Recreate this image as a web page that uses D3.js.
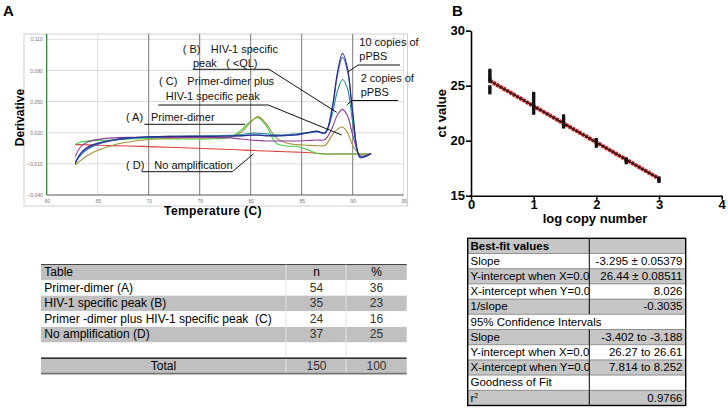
<!DOCTYPE html>
<html><head><meta charset="utf-8">
<script src="https://cdn.jsdelivr.net/npm/d3@7"></script>
<style>
body{margin:0;background:#fff;}
svg{display:block;font-family:"Liberation Sans",Arial,sans-serif;}
text{white-space:pre;}
</style></head>
<body><svg id="c" width="728" height="410"></svg>
<script>
// ---------- Panel A: melt curve data ----------
const meltTemps = [62.8,63.3,64,65,66.5,68,70,72,74,76,78,79,80,80.7,81.5,82.5,83.5,84.5,85.5,86.5,87.3,88,88.5,89,89.5,90,90.7,91.2,91.8];
const navy10   = [-0.010,0.000,0.006,0.010,0.013,0.015,0.016,0.0165,0.0165,0.0165,0.0168,0.017,0.0175,0.0175,0.017,0.017,0.0175,0.018,0.020,0.0215,0.020,0.045,0.078,0.0966,0.082,0.040,-0.003,-0.003,0.000];
const blue10b  = [-0.008,-0.001,0.005,0.009,0.0125,0.0145,0.0158,0.0163,0.0165,0.0165,0.0168,0.0172,0.018,0.018,0.0175,0.017,0.0172,0.0178,0.0195,0.021,0.0195,0.043,0.075,0.093,0.079,0.038,-0.004,-0.003,0.000];
const teal2    = [-0.009,-0.002,0.004,0.009,0.013,0.015,0.016,0.0165,0.0167,0.017,0.0175,0.018,0.0195,0.0195,0.019,0.018,0.018,0.019,0.020,0.021,0.020,0.038,0.060,0.0713,0.062,0.030,-0.003,-0.002,0.000];
const purpleB  = [-0.003,0.006,0.011,0.0135,0.015,0.0155,0.0155,0.0155,0.0155,0.0155,0.015,0.014,0.013,0.0125,0.012,0.012,0.012,0.012,0.0125,0.013,0.0135,0.025,0.037,0.0425,0.036,0.018,-0.002,-0.003,0.000];
const oliveC   = [-0.011,-0.007,-0.002,0.003,0.008,0.011,0.0135,0.0145,0.015,0.015,0.016,0.020,0.030,0.0355,0.029,0.015,0.010,0.0085,0.008,0.0075,0.008,0.018,0.0235,0.0255,0.020,0.008,-0.001,-0.001,0.000];
const greenA   = [0.0085,0.011,0.012,0.0125,0.013,0.014,0.0145,0.014,0.014,0.014,0.016,0.022,0.031,0.0345,0.027,0.010,0.0072,0.0068,0.004,0.000,-0.0005,-0.0005,-0.0005,-0.0005,-0.0005,-0.0005,-0.0005,-0.0005,-0.0005];
const redD     = [0.0085,0.0085,0.0083,0.008,0.0076,0.0072,0.0066,0.006,0.0053,0.0046,0.0038,0.0034,0.003,0.0027,0.0024,0.002,0.0016,0.0013,0.001,0.0002,-0.0005,-0.0005,-0.0005,-0.0005,-0.0005,-0.0005,-0.0005,-0.0005,-0.0005];
const meltSeries = [
  {name:"No amplification", vals:redD,    color:"#d9423c"},
  {name:"Primer-dimer",     vals:greenA,  color:"#3fd23f"},
  {name:"Primer-dimer+HIV", vals:oliveC,  color:"#a8903c"},
  {name:"HIV-1 specific",   vals:purpleB, color:"#8e3c9e"},
  {name:"2 copies",         vals:teal2,   color:"#22908e"},
  {name:"10 copies b",      vals:blue10b, color:"#3a5fd0"},
  {name:"10 copies",        vals:navy10,  color:"#2a2a8a"}
];
const meltYTicks = [0.110,0.080,0.050,0.020,-0.010,-0.040];
const meltXTicks = [60,65,70,75,80,85,90,95];

// ---------- Panel A: table ----------
const tabHeader = ["Table","n","%"];
const tabLabels = ["Primer-dimer (A)","HIV-1 specific peak (B)","Primer -dimer plus HIV-1 specific peak  (C)","No amplification (D)",""];
const tabN      = ["54","35","24","37",""];
const tabPct    = ["36","23","16","25",""];
const tabTotal  = ["Total","150","100"];

// ---------- Panel B: standard curve ----------
const logCopies = [0.301,1,1.477,2,2.477,3];
const ctValues = [
  [26.4,26.2,26.0,25.85,25.7,25.55,25.4,24.9,24.75,24.55,24.35],
  [24.3,24.1,23.9,23.7,23.5,23.3,23.1,22.9,22.7,22.5],
  [22.25,22.05,21.85,21.65,21.45,21.25],
  [20.1,19.9,19.7,19.5],
  [18.35,18.15,18.0],
  [16.6,16.45,16.3]
];
const fitSlope = -3.295, fitIntercept = 26.44;
const bXTicks = [0,1,2,3,4];
const bYTicks = [15,20,25,30];
const fitLabels = ["Best-fit values","Slope","Y-intercept when X=0.0","X-intercept when Y=0.0","1/slope","95% Confidence Intervals","Slope","Y-intercept when X=0.0","X-intercept when Y=0.0","Goodness of Fit","r²"];
const fitValues = ["","-3.295 ± 0.05379","26.44 ± 0.08511","8.026","-0.3035","","-3.402 to -3.188","26.27 to 26.61","7.814 to 8.252","","0.9766"];

// =====================================================
const svg = d3.select("#c");

// panel letters
svg.append("text").attr("x",3).attr("y",16).attr("font-size",15).attr("font-weight","bold").text("A");
svg.append("text").attr("x",452).attr("y",16).attr("font-size",15).attr("font-weight","bold").text("B");

// ---- melt plot ----
const xT = d3.scaleLinear().domain([60,95]).range([46.7,403.7]);
const yD = d3.scaleLinear().domain([-0.040,0.110]).range([195,39.3]);
const gA = svg.append("g");
gA.append("rect").attr("x",24).attr("y",34).attr("width",383.5).attr("height",172)
  .attr("fill","#fff").attr("stroke","#cfcfcf").attr("stroke-width",1);
gA.selectAll(".hg").data(meltYTicks.slice(0,5)).join("line")
  .attr("x1",xT(60)).attr("x2",xT(95)).attr("y1",d=>yD(d)).attr("y2",d=>yD(d))
  .attr("stroke","#d4d4d4").attr("stroke-width",0.8);
gA.selectAll(".vg").data(meltXTicks.slice(1)).join("line")
  .attr("x1",d=>xT(d)).attr("x2",d=>xT(d)).attr("y1",34).attr("y2",yD(-0.040))
  .attr("stroke",d=>(d===65||d===95)?"#d4d4d4":"#7a7a7a").attr("stroke-width",d=>(d===65||d===95)?0.8:1);
const axL = gA.append("g").attr("transform",`translate(${xT(60)},0)`)
  .call(d3.axisLeft(yD).tickValues(meltYTicks).tickFormat(d3.format(".3f")).tickSize(0).tickPadding(4));
axL.select(".domain").remove();
axL.selectAll("text").attr("font-size",5).attr("fill","#777").attr("font-family","Liberation Sans, Arial");
const axB = gA.append("g").attr("transform",`translate(0,${yD(-0.040)})`)
  .call(d3.axisBottom(xT).tickValues(meltXTicks).tickSize(0).tickPadding(4));
axB.select(".domain").remove();
axB.selectAll("text").attr("font-size",5).attr("fill","#777").attr("font-family","Liberation Sans, Arial");
gA.append("line").attr("x1",xT(60)).attr("x2",xT(95)).attr("y1",yD(-0.040)).attr("y2",yD(-0.040)).attr("stroke","#555").attr("stroke-width",1);
gA.append("line").attr("x1",xT(60)).attr("x2",xT(60)).attr("y1",34).attr("y2",yD(-0.040)).attr("stroke","#2e7d32").attr("stroke-width",1.2);

const meltLine = d3.line().x((d,i)=>xT(meltTemps[i])).y(d=>yD(d)).curve(d3.curveCatmullRom.alpha(0.5));
gA.selectAll(".curve").data(meltSeries).join("path")
  .attr("d",d=>meltLine(d.vals)).attr("fill","none").attr("stroke",d=>d.color).attr("stroke-width",1.1);

gA.append("text").attr("x",213).attr("y",215).attr("text-anchor","middle").attr("font-size",12).attr("font-weight","bold").attr("letter-spacing",0.4).text("Temperature (C)");
gA.append("text").attr("transform","translate(24,117.5) rotate(-90)").attr("text-anchor","middle").attr("font-size",12).attr("font-weight","bold").text("Derivative");

const ann = gA.append("g").attr("font-size",11).attr("fill","#111");
const texts = [
  ["( B)",182.7,52.5],["HIV-1 specific",210.7,52.5],["peak",193,67],["( <QL)",226,67],
  ["( C)",159,85],["Primer-dimer plus",187.3,85],["HIV-1 specific peak",165.7,99.5],
  ["( A)",126,120.5],["Primer-dimer",151,120.5],
  ["( D)",126,169],["No amplification",154.3,169],
  ["10 copies of",359.3,46],["pPBS",359.3,60],
  ["2 copies of",360.7,81.5],["pPBS",360.7,95.5]
];
ann.selectAll("text").data(texts).join("text").attr("x",d=>d[1]).attr("y",d=>d[2]).text(d=>d[0]);
const segs = [
  [192.7,69.3,269,69.3],[269,69.3,336.7,112.3],
  [158.3,105,268.3,105],[268.3,105,341.7,135],
  [144.3,124.3,245,124.3],
  [141.7,171.7,232.3,171.7],[232.3,171.7,253.3,154],
  [358,65,400,65],[358,65,348.3,71.7],
  [352,100.5,398,100.5],[352,100.5,346.7,105]
];
gA.selectAll(".seg").data(segs).join("line")
  .attr("x1",d=>d[0]).attr("y1",d=>d[1]).attr("x2",d=>d[2]).attr("y2",d=>d[3])
  .attr("stroke","#111").attr("stroke-width",1);

// ---- Table A ----
const tA = svg.append("g").attr("font-size",12);
const tx0=41, tx1=286, tx2=346, tx3=406.7, ty0=264.5, trh=15.6;
tA.append("rect").attr("x",tx0).attr("y",ty0).attr("width",tx3-tx0).attr("height",trh).attr("fill","#c0c0c0");
tA.append("line").attr("x1",tx0).attr("x2",tx3).attr("y1",ty0).attr("y2",ty0).attr("stroke","#444").attr("stroke-width",1.2);
tA.append("text").attr("x",44.3).attr("y",ty0+11.5).text(tabHeader[0]);
tA.append("text").attr("x",316.5).attr("y",ty0+11.5).attr("text-anchor","middle").text(tabHeader[1]);
tA.append("text").attr("x",376.5).attr("y",ty0+11.5).attr("text-anchor","middle").text(tabHeader[2]);
tabLabels.forEach((lab,i)=>{
  const y = ty0+trh*(i+1);
  tA.append("rect").attr("x",tx0).attr("y",y).attr("width",tx3-tx0).attr("height",trh).attr("fill",i%2===1?"#c0c0c0":"#fff");
  tA.append("text").attr("x",44.3).attr("y",y+11.5).text(lab);
  tA.append("text").attr("x",316.5).attr("y",y+11.5).attr("text-anchor","middle").attr("fill","#333").text(tabN[i]);
  tA.append("text").attr("x",376.5).attr("y",y+11.5).attr("text-anchor","middle").attr("fill","#333").text(tabPct[i]);
});
const tyT = ty0+trh*6;
tA.append("rect").attr("x",tx0).attr("y",tyT).attr("width",tx3-tx0).attr("height",trh).attr("fill","#c0c0c0");
[tx1,tx2].forEach(x=>tA.append("line").attr("x1",x).attr("x2",x).attr("y1",ty0).attr("y2",tyT+trh).attr("stroke","#e2e2e2").attr("stroke-width",1));
tA.append("line").attr("x1",tx0).attr("x2",tx3).attr("y1",tyT).attr("y2",tyT).attr("stroke","#000").attr("stroke-width",1.3);
tA.append("line").attr("x1",tx0).attr("x2",tx3).attr("y1",tyT+trh).attr("y2",tyT+trh).attr("stroke","#777").attr("stroke-width",1.8);
tA.append("text").attr("x",(tx0+tx1)/2).attr("y",tyT+11.5).attr("text-anchor","middle").text(tabTotal[0]);
tA.append("text").attr("x",316.5).attr("y",tyT+11.5).attr("text-anchor","middle").attr("fill","#333").text(tabTotal[1]);
tA.append("text").attr("x",376.5).attr("y",tyT+11.5).attr("text-anchor","middle").attr("fill","#333").text(tabTotal[2]);

// ---- Panel B scatter ----
const xB = d3.scaleLinear().domain([0,4]).range([471,721.7]);
const yB = d3.scaleLinear().domain([15,30]).range([195.7,30.7]);
const gB = svg.append("g");
const bx = gB.append("g").attr("transform",`translate(0,${yB(15)})`)
  .call(d3.axisBottom(xB).tickValues(bXTicks).tickFormat(d3.format("d")).tickSize(4).tickSizeOuter(0).tickPadding(0));
const by = gB.append("g").attr("transform",`translate(${xB(0)},0)`)
  .call(d3.axisLeft(yB).tickValues(bYTicks).tickFormat(d3.format("d")).tickSize(5).tickSizeOuter(0).tickPadding(1));
[bx,by].forEach(a=>{
  a.selectAll("path,line").attr("stroke","#000").attr("stroke-width",1.6);
  a.selectAll("text").attr("font-size",13).attr("font-weight","bold").attr("fill","#000").attr("font-family","Liberation Sans, Arial");
});
gB.append("text").attr("x",595).attr("y",223).attr("text-anchor","middle").attr("font-size",13).attr("font-weight","bold").text("log copy number");
gB.append("text").attr("transform",`translate(446,${(yB(15)+yB(30))/2}) rotate(-90)`).attr("text-anchor","middle").attr("font-size",13).attr("font-weight","bold").text("ct value");

const xs0 = logCopies[0], xs1 = logCopies[logCopies.length-1];
const fitPts = [[xs0, fitIntercept+fitSlope*xs0],[xs1, fitIntercept+fitSlope*xs1]];
const fl = d3.line().x(d=>xB(d[0])).y(d=>yB(d[1]));
gB.append("path").attr("d",fl(fitPts)).attr("stroke","#d42020").attr("stroke-width",4.2).attr("fill","none").attr("stroke-dasharray","3,0.8");
const pts = [];
logCopies.forEach((x,i)=>ctValues[i].forEach(c=>pts.push([x,c])));
gB.selectAll(".pt").data(pts).join("rect")
  .attr("x",d=>xB(d[0])-1.6).attr("y",d=>yB(d[1])-1.6).attr("width",3.2).attr("height",3.2).attr("fill","#111");
gB.append("path").attr("d",fl(fitPts)).attr("stroke","#111").attr("stroke-width",1.3).attr("fill","none");

// ---- Table B ----
const bx0=467.7, bx1=589.3, bx2=685.7, by0=238.3, brh=15.2;
const tB = svg.append("g").attr("font-size",11.5);
svg.append("defs").append("clipPath").attr("id","lc").append("rect").attr("x",bx0).attr("y",by0).attr("width",bx1-bx0).attr("height",brh*11);
fitLabels.forEach((lab,i)=>{
  const y = by0+brh*i;
  tB.append("rect").attr("x",bx0).attr("y",y).attr("width",bx2-bx0).attr("height",brh).attr("fill",i%2===0?"#c6c6c6":"#fff");
});
fitLabels.forEach((lab,i)=>{
  const y = by0+brh*i;
  if(i>0) tB.append("line").attr("x1",bx0).attr("x2",bx2).attr("y1",y).attr("y2",y).attr("stroke","#555").attr("stroke-width",0.6);
  const t = tB.append("text").attr("x",470.5).attr("y",y+11.3).attr("font-weight",i===0?"bold":"normal");
  if(i!==5) t.attr("clip-path","url(#lc)");
  if(lab==="r²"){ t.text("r"); t.append("tspan").attr("font-size",7).attr("dy",-4).text("2"); }
  else t.text(lab);
  tB.append("text").attr("x",682.5).attr("y",y+11.3).attr("text-anchor","end").text(fitValues[i]);
  if(i!==5) tB.append("line").attr("x1",bx1).attr("x2",bx1).attr("y1",y).attr("y2",y+brh).attr("stroke","#000").attr("stroke-width",1);
});
tB.append("rect").attr("x",bx0).attr("y",by0).attr("width",bx2-bx0).attr("height",brh*11).attr("fill","none").attr("stroke","#000").attr("stroke-width",1.4);
</script></body></html>
